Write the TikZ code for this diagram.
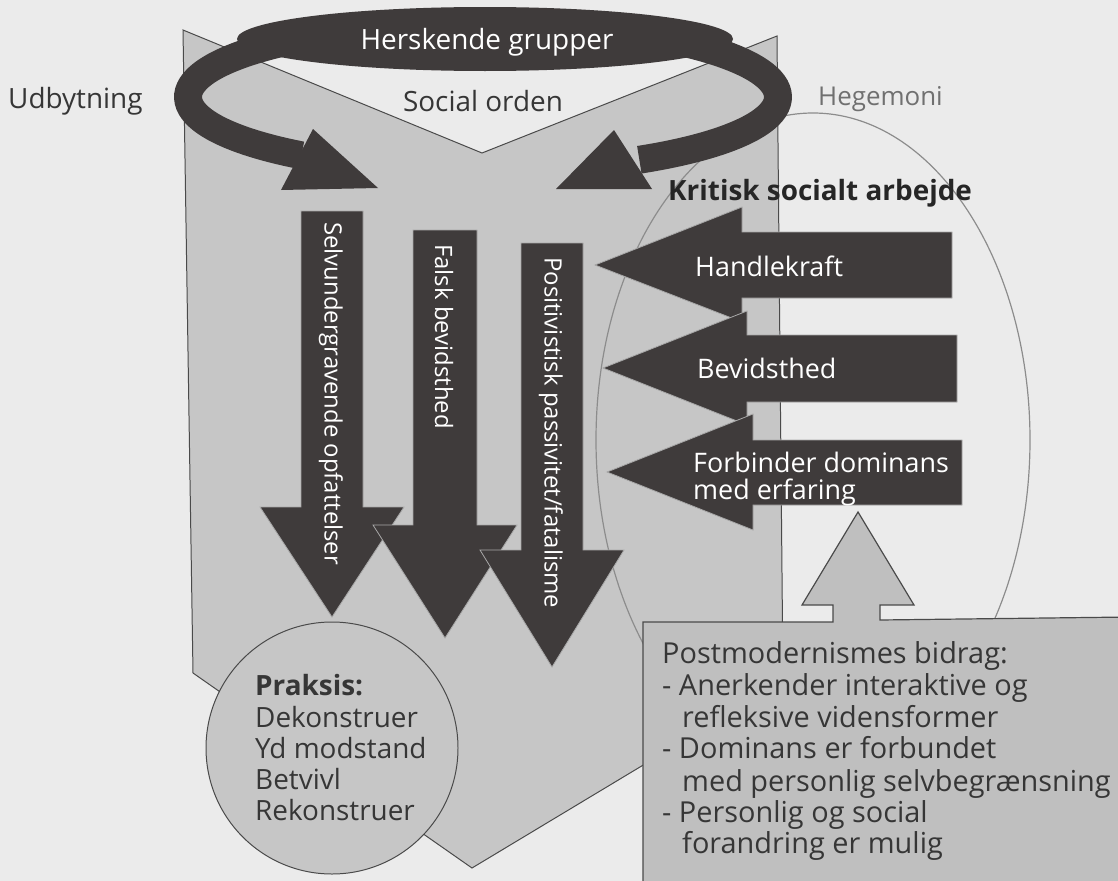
\documentclass[tikz,border=0pt]{standalone}
\usepackage{fontspec}
\setmainfont{Open Sans}
\definecolor{bg}{HTML}{EBEBEB}
\definecolor{bookgray}{HTML}{C6C6C6}
\definecolor{dark}{HTML}{3F3B3B}
\definecolor{boxgray}{HTML}{BFBFBF}
\definecolor{txt}{HTML}{363636}
\definecolor{lineg}{HTML}{8C8C8C}
\definecolor{edge}{HTML}{4A4A4A}
\tikzset{
  lbl/.style={inner sep=0pt, text=txt, font=\fontsize{28}{32}\selectfont},
  wlbl/.style={inner sep=0pt, text=white, font=\fontsize{27}{30}\selectfont},
  vlbl/.style={inner sep=0pt, text=white, rotate=-90, anchor=west, font=\fontsize{24}{28}\selectfont},
  boxlbl/.style={inner sep=0pt, text=txt, anchor=base west, font=\fontsize{29}{32}\selectfont},
  circlbl/.style={inner sep=0pt, text=txt, anchor=base west, font=\fontsize{28}{31}\selectfont},
  darkarrow/.style={fill=dark, draw=bookgray!85!black, line width=0.8pt},
}
\begin{document}
\begin{tikzpicture}[x=1bp,y=-1bp]
\fill[bg] (0,0) rectangle (1118,881);
\useasboundingbox (0,0) rectangle (1118,881);
\begin{scope}
\clip (0,0) rectangle (1118,881);
% book shape
\filldraw[fill=bookgray, draw=edge, line width=1pt] (183,30) -- (482,153) -- (777,36) -- (783,681) -- (472,868) -- (193,673) -- cycle;
% hegemony ellipse
\draw[lineg, line width=1.2pt] (813,440) ellipse [x radius=217, y radius=327];
% ring
\draw[dark, line width=28pt] plot[domain=128:418, samples=120, smooth] ({483+295*cos(\x)},{97+74*sin(\x)});
\fill[dark] (485,39) ellipse [x radius=248, y radius=32];
\fill[dark] (313,129) -- (378,188) -- (281,190) -- cycle;
\fill[dark] (614,130) -- (556,189) -- (652,189) -- cycle;
\node[wlbl, font=\fontsize{28}{32}\selectfont] (hg) at (487,42) {Herskende grupper};
% labels on top
\node[lbl, anchor=west] (udb) at (8,101) {Udbytning};
\node[lbl] (soc) at (483,101) {Social orden};
\node[lbl, anchor=west, text=lineg!80!black, font=\fontsize{26}{30}\selectfont] (heg) at (818,99) {Hegemoni};
% vertical arrows
\path[darkarrow] (301,211) -- (363,211) -- (363,507) -- (404,507) -- (332,617) -- (260,507) -- (301,507) -- cycle;
\path[darkarrow] (413,230) -- (477,230) -- (477,525) -- (517,525) -- (445,638) -- (373,525) -- (413,525) -- cycle;
\path[darkarrow] (521,243) -- (583,243) -- (583,550) -- (624,550) -- (552,667) -- (480,550) -- (521,550) -- cycle;
\node[vlbl] (v1) at (331,222) {Selvundergravende opfattelser};
\node[vlbl] (v2) at (444,244) {Falsk bevidsthed};
\node[vlbl] (v3) at (551,257) {Positivistisk passivitet/fatalisme};
% horizontal arrows
\path[darkarrow] (952,232) -- (742,232) -- (742,207) -- (595,265) -- (742,322) -- (742,298) -- (952,298) -- cycle;
\path[darkarrow] (957,335) -- (747,335) -- (747,311) -- (603,368) -- (747,425) -- (747,402) -- (957,402) -- cycle;
\path[darkarrow] (962,440) -- (753,440) -- (753,414) -- (607,472) -- (753,530) -- (753,505) -- (962,505) -- cycle;
\node[wlbl, anchor=west] (h1) at (695,266) {Handlekraft};
\node[wlbl, anchor=west] (h2) at (697,368) {Bevidsthed};
\node[wlbl, anchor=base west] (h3a) at (693,472) {Forbinder dominans};
\node[wlbl, anchor=base west] (h3b) at (693,499) {med erfaring};
\node[inner sep=0pt, anchor=west, text=black!85, font=\bfseries\fontsize{28}{32}\selectfont] (krit) at (668,193) {Kritisk socialt arbejde};
% circle
\filldraw[fill=bookgray, draw=edge, line width=1pt] (332,748) circle [radius=126];
\node[circlbl, font=\bfseries\fontsize{28}{31}\selectfont] (p0) at (255,695) {Praksis:};
\node[circlbl] (p1) at (255,727) {Dekonstruer};
\node[circlbl] (p2) at (255,758) {Yd modstand};
\node[circlbl] (p3) at (255,789) {Betvivl};
\node[circlbl] (p4) at (255,820) {Rekonstruer};
% box with up arrow
\filldraw[fill=boxgray, draw=edge, line width=1.2pt] (643,622) -- (833,622) -- (833,605) -- (802,605) -- (858,512) -- (914,605) -- (880,605) -- (880,620) -- (1130,617) -- (1130,900) -- (643,900) -- cycle;
\node[boxlbl] (b0) at (662,663) {Postmodernismes bidrag:};
\node[boxlbl] (b1) at (662,695) {- Anerkender interaktive og};
\node[boxlbl] (b2) at (682,727) {refleksive vidensformer};
\node[boxlbl] (b3) at (662,758) {- Dominans er forbundet};
\node[boxlbl] (b4) at (682,791) {med personlig selvbegrænsning};
\node[boxlbl] (b5) at (662,822) {- Personlig og social};
\node[boxlbl] (b6) at (682,853) {forandring er mulig};
\end{scope}
\end{tikzpicture}
\end{document}
